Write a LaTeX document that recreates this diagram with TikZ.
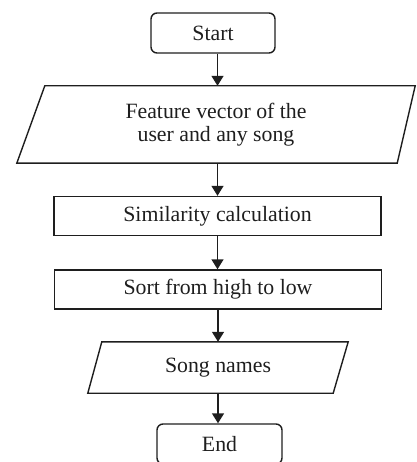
\documentclass[tikz,border=0pt]{standalone}
\usepackage{fontspec}
\setmainfont{Liberation Serif}
\usetikzlibrary{arrows.meta}
\definecolor{ink}{HTML}{1E1E1E}
\begin{document}
\begin{tikzpicture}[x=1pt,y=-1pt,
  every node/.style={font=\fontsize{21.8}{23.5}\selectfont, text=ink, inner sep=0pt},
  term/.style={draw=ink, rounded corners=6pt, line width=1.4pt, minimum width=124pt, minimum height=40pt},
  proc/.style={draw=ink, line width=1.4pt, minimum width=327pt, minimum height=39pt},
  iobox/.style={align=center},
  para/.style={draw=ink, line width=1.4pt, line join=miter},
  arr/.style={draw=ink, line width=1.4pt, -{Triangle[length=10pt,width=12pt]}}]
\useasboundingbox (0,0) rectangle (416,462);
\clip (0,0) rectangle (416,462);
\node[term] (start) at (213,33) {Start};
\node[iobox, minimum width=398pt, minimum height=77pt] (fv) at (216,124.5) {Feature vector of the\\user and any song};
\draw[para] ([xshift=28pt]fv.north west) -- (fv.north east) -- ([xshift=-18pt]fv.south east) -- (fv.south west) -- cycle;
\node[proc] (sim) at (217.5,216) {Similarity calculation};
\node[proc] (sort) at (218,289.5) {Sort from high to low};
\node[iobox, minimum width=260pt, minimum height=51pt] (song) at (218,367.5) {Song names};
\draw[para] ([xshift=14pt]song.north west) -- (song.north east) -- ([xshift=-15pt]song.south east) -- (song.south west) -- cycle;
\node[term, minimum width=125pt] (end) at (219.5,444) {End};
\draw[arr] (start.south -| sim) -- (fv.north -| sim);
\draw[arr] (fv.south -| sim) -- (sim.north);
\draw[arr] (sim.south) -- (sim.south |- sort.north);
\draw[arr] (sort.south) -- (song.north);
\draw[arr] (song.south) -- (song.south |- end.north);
\end{tikzpicture}
\end{document}
